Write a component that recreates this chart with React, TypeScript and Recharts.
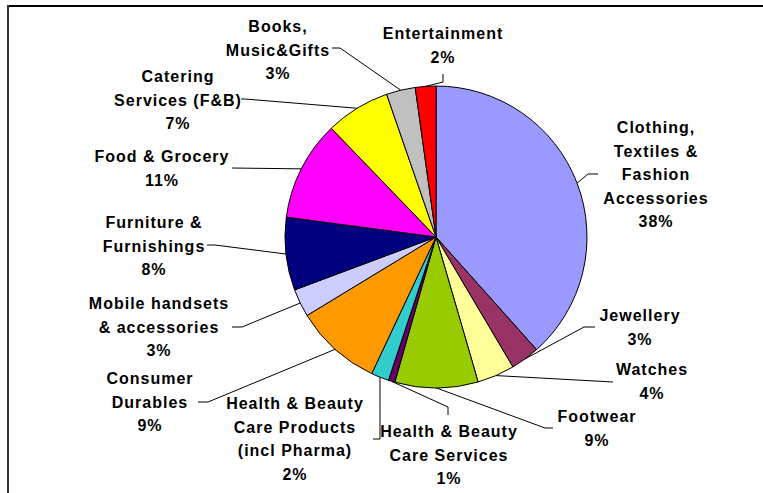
import { PieChart, Pie, Cell } from 'recharts';

// retail spend share by category, clockwise from 12 o'clock
const CATEGORIES = [
  'Clothing, Textiles & Fashion Accessories',
  'Jewellery',
  'Watches',
  'Footwear',
  'Health & Beauty Care Services',
  'Health & Beauty Care Products (incl Pharma)',
  'Consumer Durables',
  'Mobile handsets & accessories',
  'Furniture & Furnishings',
  'Food & Grocery',
  'Catering Services (F&B)',
  'Books, Music&Gifts',
  'Entertainment',
];

const SHARES = [38.4, 3.1, 4.0, 8.9, 0.7, 1.9, 9.3, 3.0, 7.8, 10.7, 6.9, 3.1, 2.2];

// how each category name wraps in its label
const LABEL_LINES = [
  ['Clothing,', 'Textiles &', 'Fashion', 'Accessories'],
  ['Jewellery'],
  ['Watches'],
  ['Footwear'],
  ['Health & Beauty', 'Care Services'],
  ['Health & Beauty', 'Care Products', '(incl Pharma)'],
  ['Consumer', 'Durables'],
  ['Mobile handsets', '& accessories'],
  ['Furniture &', 'Furnishings'],
  ['Food & Grocery'],
  ['Catering', 'Services (F&B)'],
  ['Books,', 'Music&Gifts'],
  ['Entertainment'],
];

const COLORS = [
  '#9999FF', '#993366', '#FFFF99', '#99CC00', '#660066', '#33CCCC', '#FF9900',
  '#CCCCFF', '#000080', '#FF00FF', '#FFFF00', '#C0C0C0', '#FF0000',
];

// label placement: text centre x, first line centre y, leader bend points
const LABEL_LAYOUT: { x: number; y: number; leader: number[][] }[] = [
  { x: 656, y: 127, leader: [[588, 174], [598, 174]] },
  { x: 640, y: 315, leader: [[584, 327], [595, 327]] },
  { x: 652, y: 369, leader: [[613, 382]] },
  { x: 597, y: 416, leader: [[545, 428], [553, 428]] },
  { x: 449, y: 431, leader: [[448, 407], [448, 415]] },
  { x: 295, y: 403, leader: [[380, 439], [373, 439]] },
  { x: 150, y: 378, leader: [[208, 402], [198, 402]] },
  { x: 159, y: 303, leader: [[242, 327], [232, 327]] },
  { x: 154, y: 222, leader: [[215, 245], [207, 245]] },
  { x: 162, y: 156, leader: [[232, 168]] },
  { x: 178, y: 76, leader: [[245, 99], [241, 99]] },
  { x: 278, y: 26, leader: [[340, 48], [332, 48]] },
  { x: 443, y: 33, leader: [[443, 82], [443, 74]] },
];

const data = CATEGORIES.map((name, i) => ({ name, value: SHARES[i] }));
const total = SHARES.reduce((s, v) => s + v, 0);

const RADIAN = Math.PI / 180;
const LINE_H = 23.5;

const renderLabel = (props: any) => {
  const { cx, cy, midAngle, outerRadius, index } = props;
  const layout = LABEL_LAYOUT[index];
  const ex = cx + outerRadius * Math.cos(-midAngle * RADIAN);
  const ey = cy + outerRadius * Math.sin(-midAngle * RADIAN);
  const pts = [[ex, ey], ...layout.leader].map((p) => p.join(',')).join(' ');
  const lines = [...LABEL_LINES[index], `${Math.round((SHARES[index] / total) * 100)}%`];
  return (
    <g key={`lbl-${index}`}>
      <polyline points={pts} fill="none" stroke="#000" strokeWidth={1} />
      <text
        textAnchor="middle"
        fontFamily="'Liberation Sans', Arial, sans-serif"
        fontWeight="bold"
        fontSize={16}
        letterSpacing={1}
        fill="#000"
      >
        {lines.map((line, i) => (
          <tspan key={i} x={layout.x} y={layout.y + i * LINE_H + 6}>
            {line}
          </tspan>
        ))}
      </text>
    </g>
  );
};

export default function App() {
  return (
    <div style={{ position: 'absolute', left: 0, top: 0, width: 763, height: 493, background: '#fff' }}>
      <div style={{ position: 'absolute', left: 7, top: 5, right: 0, height: 2, background: '#000' }} />
      <div style={{ position: 'absolute', left: 7, top: 5, bottom: 0, width: 2, background: '#333' }} />
      <PieChart
        width={763}
        height={493}
        margin={{ top: 0, right: 0, bottom: 0, left: 0 }}
        style={{ position: 'absolute', left: 0, top: 0 }}
      >
        <Pie
          data={data}
          dataKey="value"
          cx={436}
          cy={237}
          outerRadius={151}
          startAngle={90}
          endAngle={-270}
          stroke="#000"
          strokeWidth={1}
          label={renderLabel}
          labelLine={false}
          isAnimationActive={false}
        >
          {data.map((_, i) => (
            <Cell key={i} fill={COLORS[i]} />
          ))}
        </Pie>
      </PieChart>
    </div>
  );
}
